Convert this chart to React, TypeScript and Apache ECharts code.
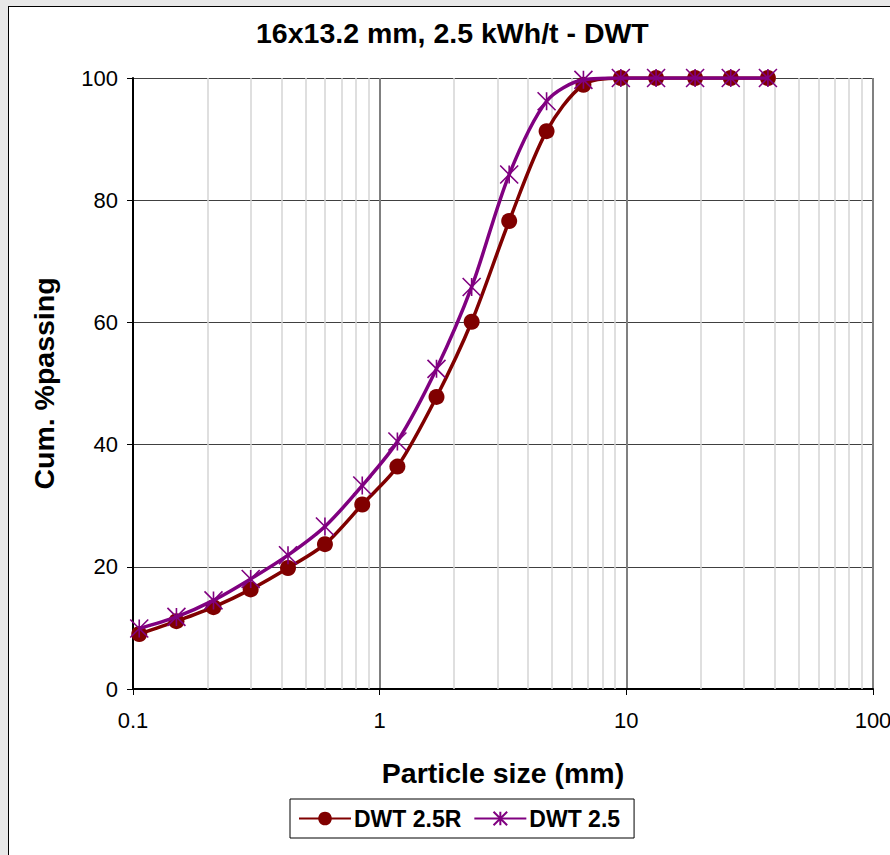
import React, { useEffect, useRef } from "react";
import * as echarts from "echarts";

const titleText = "16x13.2 mm, 2.5 kWh/t - DWT";
const xName = "Particle size (mm)";
const yName = "Cum. %passing";
const seriesNames = ["DWT 2.5R", "DWT 2.5"];
const sizes = [0.106, 0.15, 0.212, 0.3, 0.425, 0.6, 0.85, 1.18, 1.7, 2.36, 3.35, 4.75, 6.7, 9.5, 13.2, 19, 26.5, 37.5];
const dwt25R = [9.0, 11.1, 13.4, 16.3, 19.8, 23.7, 30.2, 36.4, 47.8, 60.1, 76.6, 91.3, 98.9, 100, 100, 100, 100, 100];
const dwt25 = [9.9, 11.8, 14.5, 18.0, 21.9, 26.6, 33.3, 40.5, 52.4, 65.8, 84.2, 96.2, 99.7, 100, 100, 100, 100, 100];
const minorGrid = [0.2, 0.3, 0.4, 0.5, 0.6, 0.7, 0.8, 0.9, 2, 3, 4, 5, 6, 7, 8, 9, 20, 30, 40, 50, 60, 70, 80, 90];

const FONT = "'Liberation Sans', Arial, sans-serif";
const STAR = "path://M0,0L20,20M20,0L0,20M10,0L10,20";

export default function App() {
  const ref = useRef<HTMLDivElement>(null);
  useEffect(() => {
    if (!ref.current) return;
    const chart = echarts.init(ref.current, undefined, { renderer: "svg" });
    chart.setOption({
      animation: false,
      backgroundColor: "transparent",
      title: {
        text: titleText,
        left: 251,
        top: 13,
        textStyle: { fontFamily: FONT, fontWeight: "bold", fontSize: 28.5, color: "#000" },
      },
      legend: {
        data: seriesNames,
        left: 290,
        top: 799,
        padding: [8, 14, 8, 8],
        borderColor: "#000",
        borderWidth: 1,
        backgroundColor: "#fff",
        itemWidth: 52,
        itemHeight: 17,
        itemGap: 12,
        textStyle: { fontFamily: FONT, fontWeight: "bold", fontSize: 23, color: "#000", padding: [0, 0, 0, -2] },
      },
      grid: { left: 133, right: 17, top: 78, bottom: 166, containLabel: false, outerBoundsMode: "none" },
      xAxis: {
        type: "log",
        logBase: 10,
        min: 0.1,
        max: 100,
        name: xName,
        nameLocation: "middle",
        nameGap: 69,
        nameTextStyle: { fontFamily: FONT, fontWeight: "bold", fontSize: 28.5, color: "#000" },
        axisLine: { lineStyle: { color: "#000", width: 2 } },
        axisTick: { show: true, length: 6, inside: false, lineStyle: { color: "#000", width: 1 } },
        axisLabel: { fontFamily: FONT, fontSize: 22, color: "#000", margin: 20 },
        splitLine: { show: true, lineStyle: { color: "#808080", width: 2 } },
        minorTick: { show: false },
      },
      yAxis: {
        type: "value",
        min: 0,
        max: 100,
        interval: 20,
        name: yName,
        nameLocation: "middle",
        nameGap: 75,
        nameTextStyle: { fontFamily: FONT, fontWeight: "bold", fontSize: 28.5, color: "#000" },
        axisLine: { show: true, lineStyle: { color: "#000", width: 2 } },
        axisTick: { show: true, length: 6, inside: false, lineStyle: { color: "#000", width: 1 } },
        axisLabel: { fontFamily: FONT, fontSize: 22, color: "#000", margin: 15 },
        splitLine: { show: true, lineStyle: { color: "#404040", width: 1 } },
      },
      series: [
        {
          name: "minor",
          type: "line",
          data: [],
          silent: true,
          markLine: {
            silent: true,
            z: 1,
            symbol: "none",
            label: { show: false },
            lineStyle: { color: "#d4d4d4", width: 1.5, type: "solid" },
            emphasis: { disabled: true },
            data: minorGrid.map((v) => ({ xAxis: v })),
          },
        },
        {
          name: seriesNames[0],
          type: "line",
          z: 3,
          smooth: 0.3,
          data: sizes.map((s, i) => [s, dwt25R[i]]),
          symbol: "circle",
          symbolSize: 16,
          lineStyle: { color: "#800000", width: 3.5 },
          itemStyle: { color: "#800000" },
        },
        {
          name: seriesNames[1],
          type: "line",
          z: 4,
          smooth: 0.3,
          data: sizes.map((s, i) => [s, dwt25[i]]),
          symbol: STAR,
          symbolSize: 18,
          lineStyle: { color: "#800080", width: 3.5 },
          itemStyle: { color: "none", borderColor: "#800080", borderWidth: 1.6 },
        },
      ],
    });
    return () => chart.dispose();
  }, []);
  return (
    <div style={{ position: "fixed", left: 0, top: 0, width: 890, height: 855, background: "#e8e8e8", overflow: "hidden" }}>
      <div style={{ position: "absolute", left: 8, top: 6, width: 900, height: 900, background: "#fff", border: "1px solid #000" }} />
      <div ref={ref} style={{ position: "absolute", left: 0, top: 0, width: 890, height: 855 }} />
    </div>
  );
}
